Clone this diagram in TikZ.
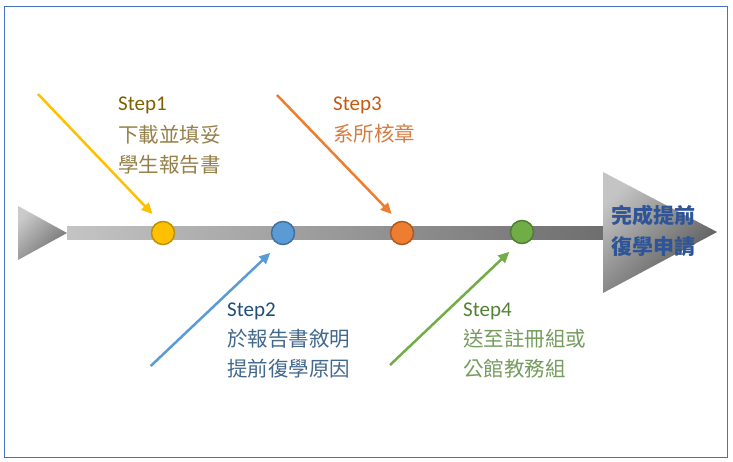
\documentclass[tikz,border=0pt]{standalone}
\usepackage{fontspec}
\setmainfont{Carlito}
\newfontfamily\cjk{Noto Sans CJK TC}
\usetikzlibrary{arrows.meta}
\definecolor{frameblue}{HTML}{4472C4}
\definecolor{yfill}{HTML}{FFC000}\definecolor{ydraw}{HTML}{BF9000}
\definecolor{bfill}{HTML}{5B9BD5}\definecolor{bdraw}{HTML}{41719C}
\definecolor{ofill}{HTML}{ED7D31}\definecolor{odraw}{HTML}{AE5A21}
\definecolor{gfill}{HTML}{70AD47}\definecolor{gdraw}{HTML}{507E32}
\definecolor{ytext}{HTML}{7F6000}\definecolor{ytextl}{HTML}{948048}
\definecolor{btext}{HTML}{1F4E79}\definecolor{btextl}{HTML}{43688E}
\definecolor{otext}{HTML}{C55A11}\definecolor{otextl}{HTML}{D47D42}
\definecolor{gtext}{HTML}{548235}\definecolor{gtextl}{HTML}{759C5D}
\definecolor{endtext}{HTML}{2F5597}
\definecolor{gl}{RGB}{196,196,196}\definecolor{gd}{RGB}{110,110,110}
\tikzset{
  dot/.style={circle, minimum size=23pt, inner sep=0pt, line width=1.5pt},
  arr/.style={line width=2.5pt, -{Triangle[length=11pt,width=10pt]}},
  steplbl/.style={anchor=base west, inner sep=0pt, font=\fontsize{21}{24}\selectfont},
  cjkline/.style={anchor=base west, inner sep=0pt, font=\cjk\fontsize{20.5}{24}\selectfont},
  endline/.style={anchor=base, inner sep=0pt, font=\cjk\bfseries\fontsize{21}{24}\selectfont, text=endtext},
}
\begin{document}
\begin{tikzpicture}[x=1pt,y=-1pt]
\useasboundingbox (0,0) rectangle (733,461);
\draw[frameblue, line width=1pt] (4,6) rectangle (727,457);
% spine
\shade[top color=gl!90!white, bottom color=gd, shading angle=45] (18,206) -- (67,233) -- (18,260) -- cycle;
\shade[left color=gl, right color=gd] (67,226) rectangle (606,239.5);
\shade[top color=gl, bottom color=gd!120!white, shading angle=45] (603,172) -- (717,232) -- (603,293) -- cycle;
\node[endline] (e1) at (653.5,223) {完成提前};
\node[endline] (e2) at (653.5,254.5) {復學申請};
% dots
\node[dot, fill=yfill, draw=ydraw] (c1) at (163,233) {};
\node[dot, fill=bfill, draw=bdraw] (c2) at (283,233) {};
\node[dot, fill=ofill, draw=odraw] (c3) at (402,233) {};
\node[dot, fill=gfill, draw=gdraw] (c4) at (522,232) {};
% arrow starts
\coordinate (a1) at (38,94);
\coordinate (a2) at (150.7,366);
\coordinate (a3) at (277,95);
\coordinate (a4) at (390,365);
\draw[arr, yfill, shorten >=10pt] (a1) -- (c1.107);
\draw[arr, bfill, shorten >=12pt] (a2) -- (c2.251);
\draw[arr, ofill, shorten >=10pt] (a3) -- (c3.106);
\draw[arr, gfill, shorten >=12pt] (a4) -- (c4.251);
% texts
\node[steplbl, text=ytext] (s1) at (118,110) {Step1};
\node[cjkline, text=ytextl] (s1a) at (118,142.8) {下載並填妥};
\node[cjkline, text=ytextl] (s1b) at (118,172.8) {學生報告書};
\node[steplbl, text=otext] (s3) at (333,110) {Step3};
\node[cjkline, text=otextl] (s3a) at (333,141.8) {系所核章};
\node[steplbl, text=btext] (s2) at (227,316) {Step2};
\node[cjkline, text=btextl] (s2a) at (227,346.8) {於報告書敘明};
\node[cjkline, text=btextl] (s2b) at (227,376.8) {提前復學原因};
\node[steplbl, text=gtext] (s4) at (463,316) {Step4};
\node[cjkline, text=gtextl] (s4a) at (463,346.8) {送至註冊組或};
\node[cjkline, text=gtextl] (s4b) at (463,376.8) {公館教務組};
\end{tikzpicture}
\end{document}
